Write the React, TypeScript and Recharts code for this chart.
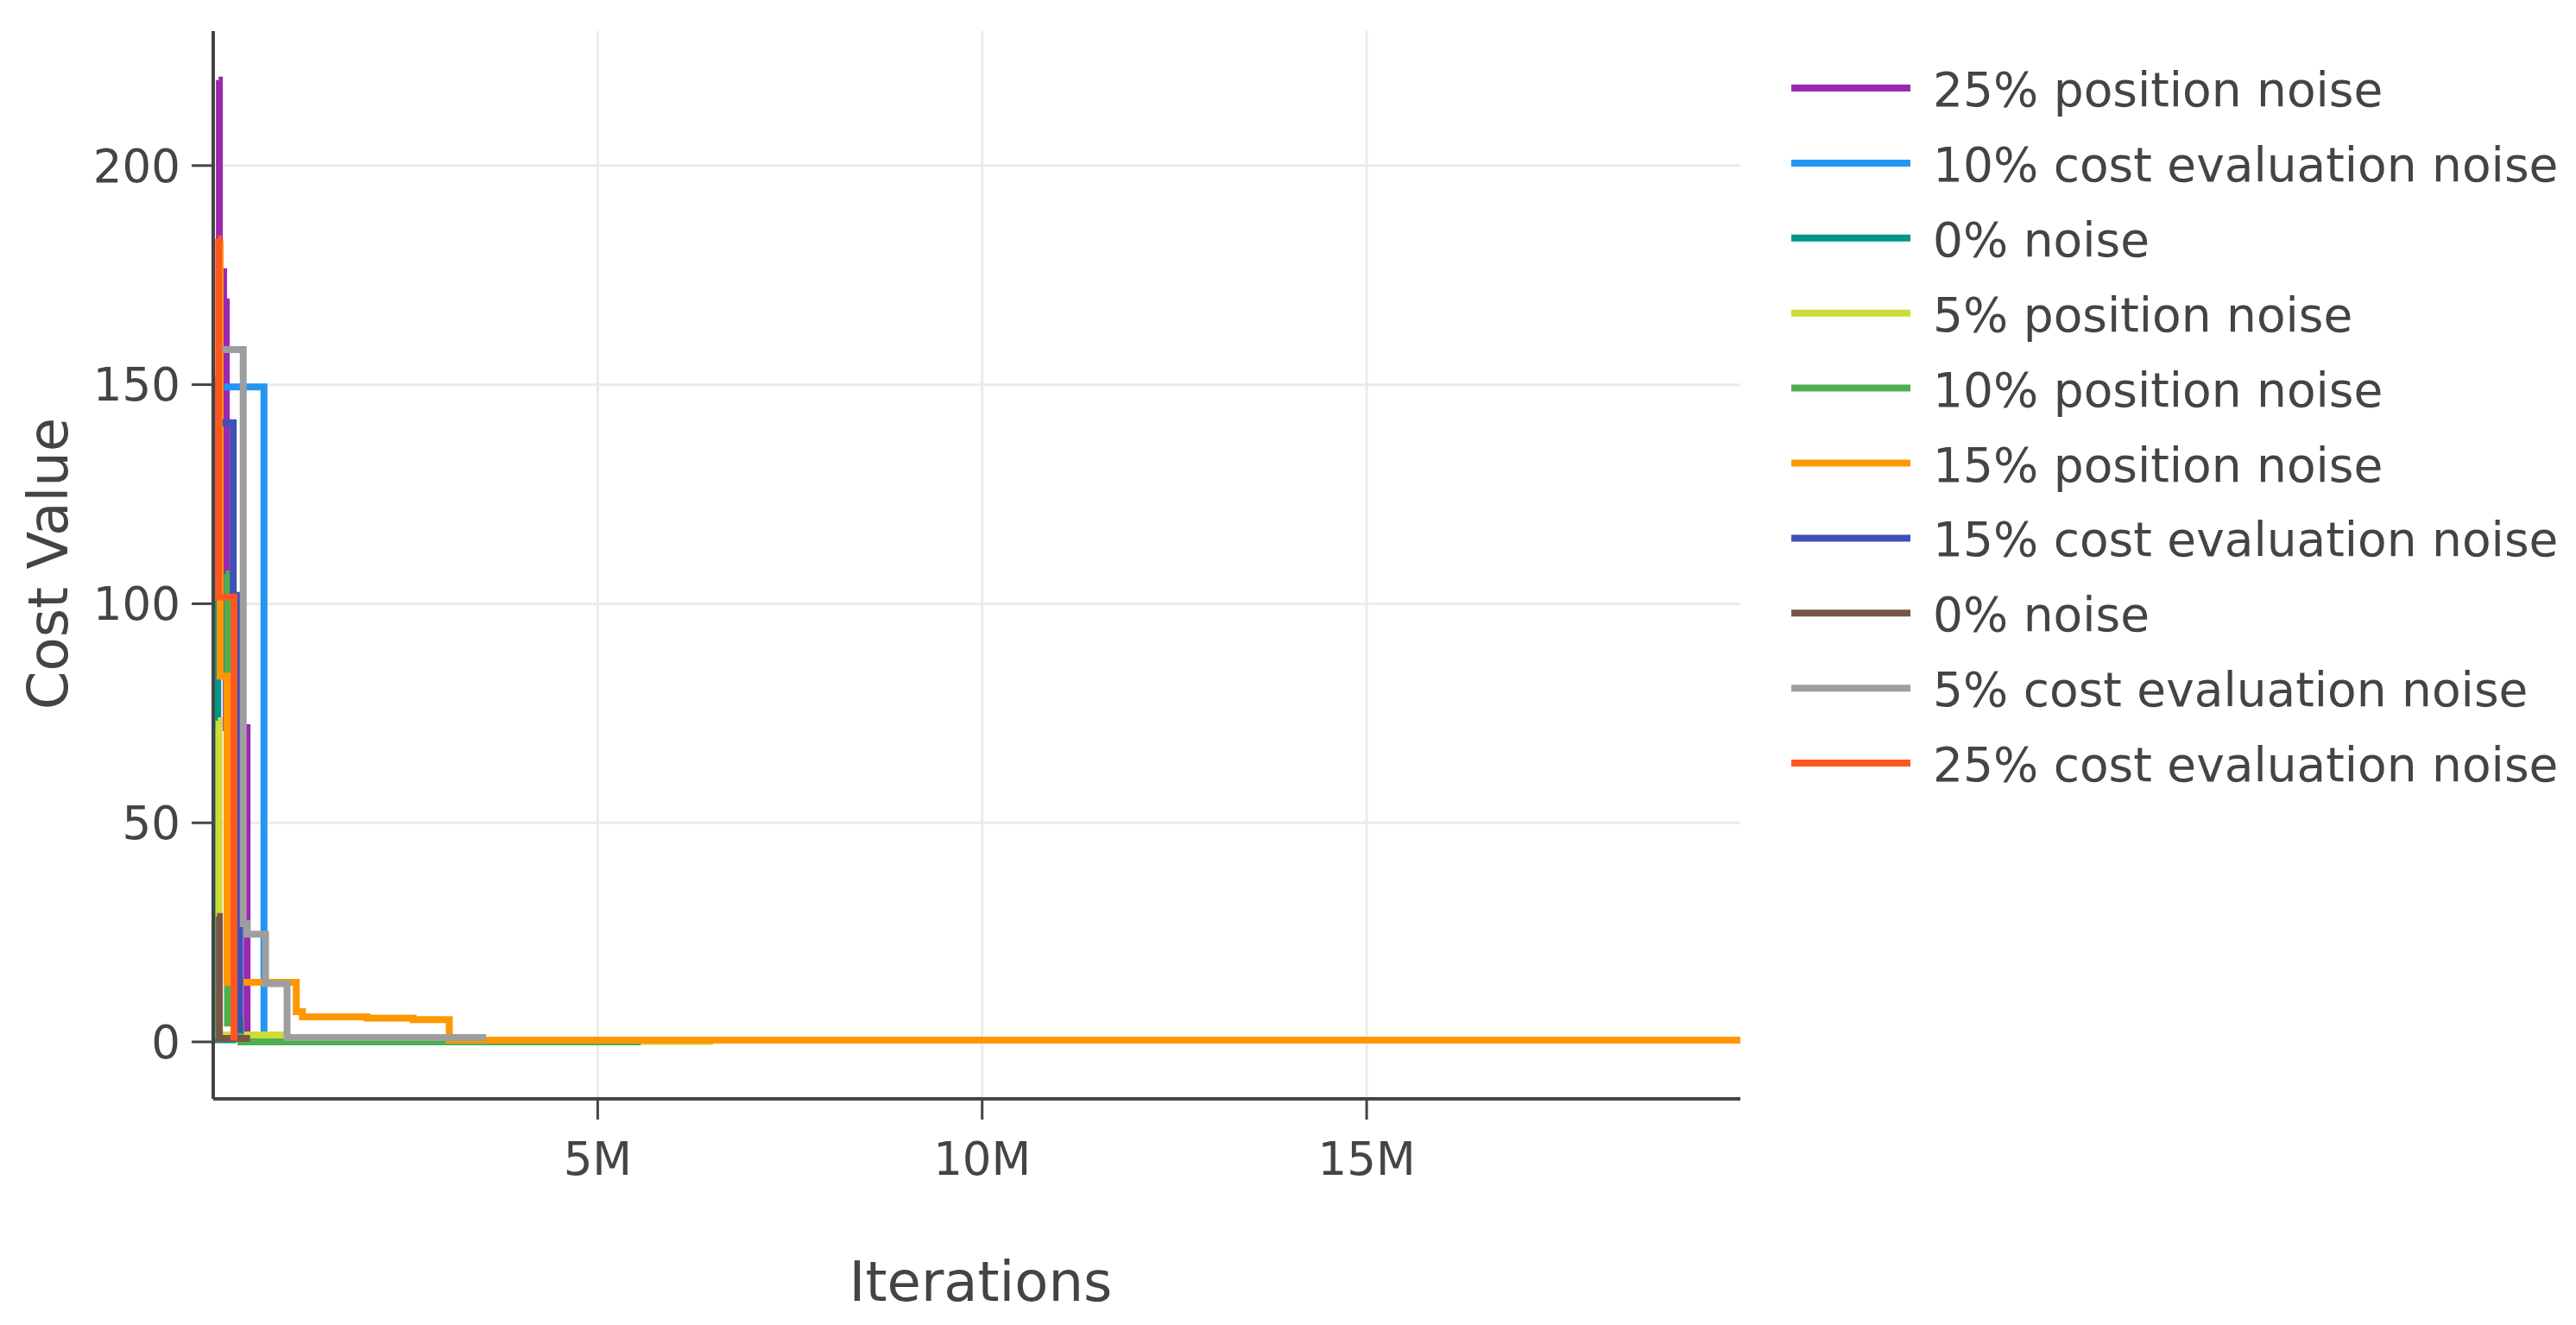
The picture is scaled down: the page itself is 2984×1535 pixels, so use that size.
import { LineChart, Line, XAxis, YAxis, ReferenceLine, Label } from "recharts";

const FONT = "'DejaVu Sans', Verdana, sans-serif";
const INK = "#444";
const GRID = "#ebebeb";

// iterations (x) and best cost (y) per run
const pos25Iter = [70000, 80000, 135000, 170000, 440000];
const pos25Cost = [219.5, 175.8, 168.9, 71.7, 2.0];

const cost10Iter = [140000, 660000];
const cost10Cost = [149.5, 2.0];

const noiseAIter = [40000, 60000, 300000];
const noiseACost = [152, 0.5, 0.5];

const pos5Iter = [60000, 75000, 940000, 6500000];
const pos5Cost = [73.3, 1.6, 0.1, 0.1];

const pos10Iter = [160000, 185000, 360000, 5560000];
const pos10Cost = [106.8, 4.3, 0.0, 0.0];

const pos15Iter = [65000, 90000, 180000, 1080000, 1160000, 2000000, 2600000, 3070000, 19860000];
const pos15Cost = [182, 83.5, 13.6, 6.9, 5.7, 5.4, 5.1, 0.4, 0.4];

const cost15Iter = [120000, 260000, 345000];
const cost15Cost = [141.3, 101.9, 2.0];

const noiseBIter = [50000, 80000, 480000];
const noiseBCost = [28.6, 0.8, 0.8];

const cost5Iter = [110000, 390000, 440000, 680000, 960000, 3550000];
const cost5Cost = [158, 27, 24.6, 13.3, 1.0, 1.0];

const cost25Iter = [60000, 70000, 270000];
const cost25Cost = [183.3, 101.5, 0.3];

const xTicks = [5000000, 10000000, 15000000];
const yTicks = [0, 50, 100, 150, 200];

const toPoints = (iter: number[], cost: number[]) =>
  iter.map((x, i) => ({ x, y: cost[i] }));

const runs = [
  { name: "25% position noise", color: "#9c27b0", data: toPoints(pos25Iter, pos25Cost) },
  { name: "10% cost evaluation noise", color: "#2196f3", data: toPoints(cost10Iter, cost10Cost) },
  { name: "0% noise", color: "#009688", data: toPoints(noiseAIter, noiseACost) },
  { name: "5% position noise", color: "#cddc39", data: toPoints(pos5Iter, pos5Cost) },
  { name: "10% position noise", color: "#4caf50", data: toPoints(pos10Iter, pos10Cost) },
  { name: "15% position noise", color: "#ff9800", data: toPoints(pos15Iter, pos15Cost) },
  { name: "15% cost evaluation noise", color: "#3f51b5", data: toPoints(cost15Iter, cost15Cost) },
  { name: "0% noise", color: "#795548", data: toPoints(noiseBIter, noiseBCost) },
  { name: "5% cost evaluation noise", color: "#9e9e9e", data: toPoints(cost5Iter, cost5Cost) },
  { name: "25% cost evaluation noise", color: "#ff5722", data: toPoints(cost25Iter, cost25Cost) },
];

function LegendBox() {
  return (
    <svg
      width={920}
      height={900}
      style={{ position: "absolute", left: 2060, top: 50 }}
    >
      {runs.map((r, i) => {
        const cy = 52 + i * 86.9;
        return (
          <g key={i}>
            <line x1={15} x2={153} y1={cy} y2={cy} stroke={r.color} strokeWidth={8} />
            <text x={179} y={cy + 21} fontSize={55} fontFamily={FONT} fill={INK}>
              {r.name}
            </text>
          </g>
        );
      })}
    </svg>
  );
}

export default function App() {
  return (
    <div style={{ position: "absolute", left: 0, top: 0, width: 2984, height: 1535, background: "#fff" }}>
      <LineChart
        width={2984}
        height={1535}
        margin={{ top: 36, right: 968, bottom: 62, left: 47 }}
      >
        {/* gridlines only at the tick values, no frame around the plot */}
        {yTicks.map((t) => (
          <ReferenceLine key={`gy${t}`} y={t} stroke={GRID} strokeWidth={3} zIndex={-100} />
        ))}
        {xTicks.map((t) => (
          <ReferenceLine key={`gx${t}`} x={t} stroke={GRID} strokeWidth={3} zIndex={-100} />
        ))}
        <XAxis
          type="number"
          dataKey="x"
          domain={[0, 19860000]}
          ticks={xTicks}
          height={200}
          tickFormatter={(v: number) => `${v / 1000000}M`}
          tick={{ fontSize: 53, fill: INK, fontFamily: FONT }}
          tickSize={24}
          tickMargin={26}
          axisLine={{ stroke: INK, strokeWidth: 4 }}
          tickLine={{ stroke: INK, strokeWidth: 3 }}
        >
          <Label
            content={() => (
              <text x={1136} y={1507} textAnchor="middle" fontSize={64} fontFamily={FONT} fill={INK}>
                Iterations
              </text>
            )}
          />
        </XAxis>
        <YAxis
          type="number"
          domain={[-13, 230.7]}
          ticks={yTicks}
          width={200}
          tick={{ fontSize: 53, fill: INK, fontFamily: FONT }}
          tickSize={25}
          tickMargin={13}
          axisLine={{ stroke: INK, strokeWidth: 4 }}
          tickLine={{ stroke: INK, strokeWidth: 3 }}
        >
          <Label
            content={() => (
              <text
                x={78}
                y={653}
                transform="rotate(-90 78 653)"
                textAnchor="middle"
                fontSize={64}
                fontFamily={FONT}
                fill={INK}
              >
                Cost Value
              </text>
            )}
          />
        </YAxis>
        {runs.map((r, i) => (
          <Line
            key={i}
            data={r.data}
            dataKey="y"
            name={r.name}
            type="stepAfter"
            stroke={r.color}
            strokeWidth={8}
            dot={false}
            activeDot={false}
            isAnimationActive={false}
          />
        ))}
      </LineChart>
      <LegendBox />
    </div>
  );
}
